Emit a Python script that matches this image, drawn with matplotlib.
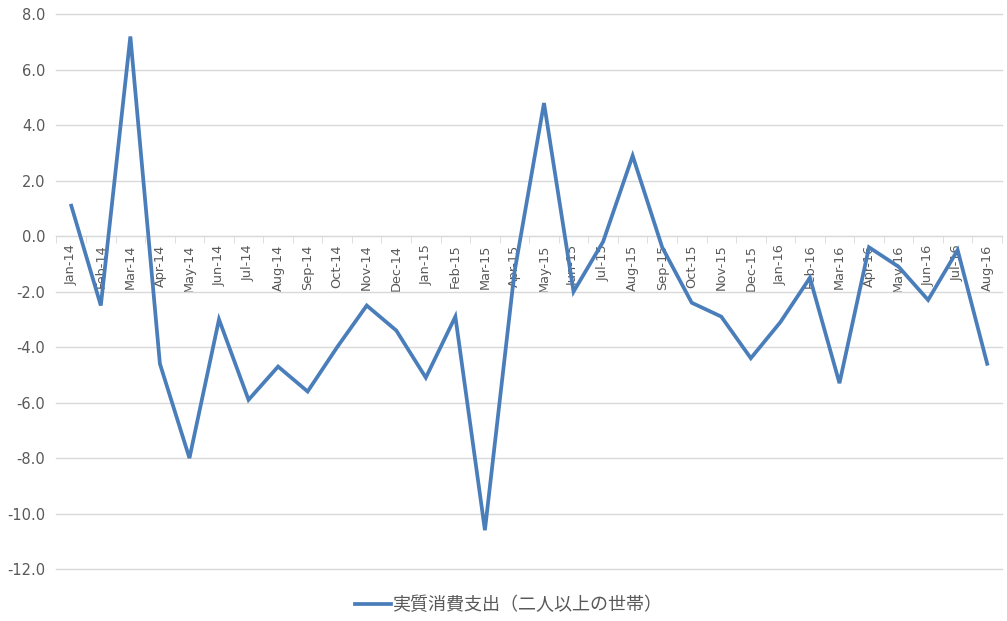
import matplotlib.pyplot as plt

plt.rcParams['font.family'] = ['Noto Sans CJK JP', 'DejaVu Sans']

months = ['Jan-14', 'Feb-14', 'Mar-14', 'Apr-14', 'May-14', 'Jun-14', 'Jul-14', 'Aug-14',
          'Sep-14', 'Oct-14', 'Nov-14', 'Dec-14', 'Jan-15', 'Feb-15', 'Mar-15', 'Apr-15',
          'May-15', 'Jun-15', 'Jul-15', 'Aug-15', 'Sep-15', 'Oct-15', 'Nov-15', 'Dec-15',
          'Jan-16', 'Feb-16', 'Mar-16', 'Apr-16', 'May-16', 'Jun-16', 'Jul-16', 'Aug-16']
values = [1.1, -2.5, 7.2, -4.6, -8.0, -3.0, -5.9, -4.7,
          -5.6, -4.0, -2.5, -3.4, -5.1, -2.9, -10.6, -1.3,
          4.8, -2.0, -0.2, 2.9, -0.4, -2.4, -2.9, -4.4,
          -3.1, -1.5, -5.3, -0.4, -1.1, -2.3, -0.5, -4.6]
series_name = '実質消費支出（二人以上の世帯）'
yticks = [-12, -10, -8, -6, -4, -2, 0, 2, 4, 6, 8]

fig = plt.figure(figsize=(10.07, 6.21), dpi=100)
ax = fig.add_axes([0.0561, 0.0837, 0.995 - 0.0561, 0.977 - 0.0837])

x = list(range(len(months)))
line, = ax.plot(x, values, color='#4A7EBB', lw=2.7, solid_joinstyle='miter', label=series_name)

ax.set_xlim(-0.5, len(months) - 0.5)
ax.set_ylim(-12, 8)
ax.set_yticks(yticks)
ax.set_yticklabels([f'{v:.1f}' for v in yticks], fontsize=10.5, color='#595959',
                   family=['DejaVu Sans'])
ax.tick_params(axis='y', length=0, pad=8)
ax.grid(axis='y', color='#D9D9D9', lw=1)
ax.set_axisbelow(True)
for gl in ax.get_ygridlines():
    gl.set_clip_on(False)

for s in ['top', 'right', 'left']:
    ax.spines[s].set_visible(False)
ax.spines['bottom'].set_position(('data', 0))
ax.spines['bottom'].set_color('#D9D9D9')
ax.spines['bottom'].set_zorder(1)

ax.set_xticks(x)
ax.set_xticklabels(months, rotation=90, fontsize=9.3, color='#595959',
                   family=['DejaVu Sans'], va='top')
ax.set_xticks([i - 0.5 for i in range(len(months) + 1)], minor=True)
ax.tick_params(axis='x', which='major', length=0, pad=6)
ax.tick_params(axis='x', which='minor', length=5, color='#D9D9D9', direction='out')

fig.legend(handles=[line], loc='center', bbox_to_anchor=(0.505, 1 - 605 / 621),
           frameon=False, fontsize=13, handlelength=2.0, handletextpad=0.1,
           labelcolor='#595959')

fig.savefig('out.png', dpi=100)
